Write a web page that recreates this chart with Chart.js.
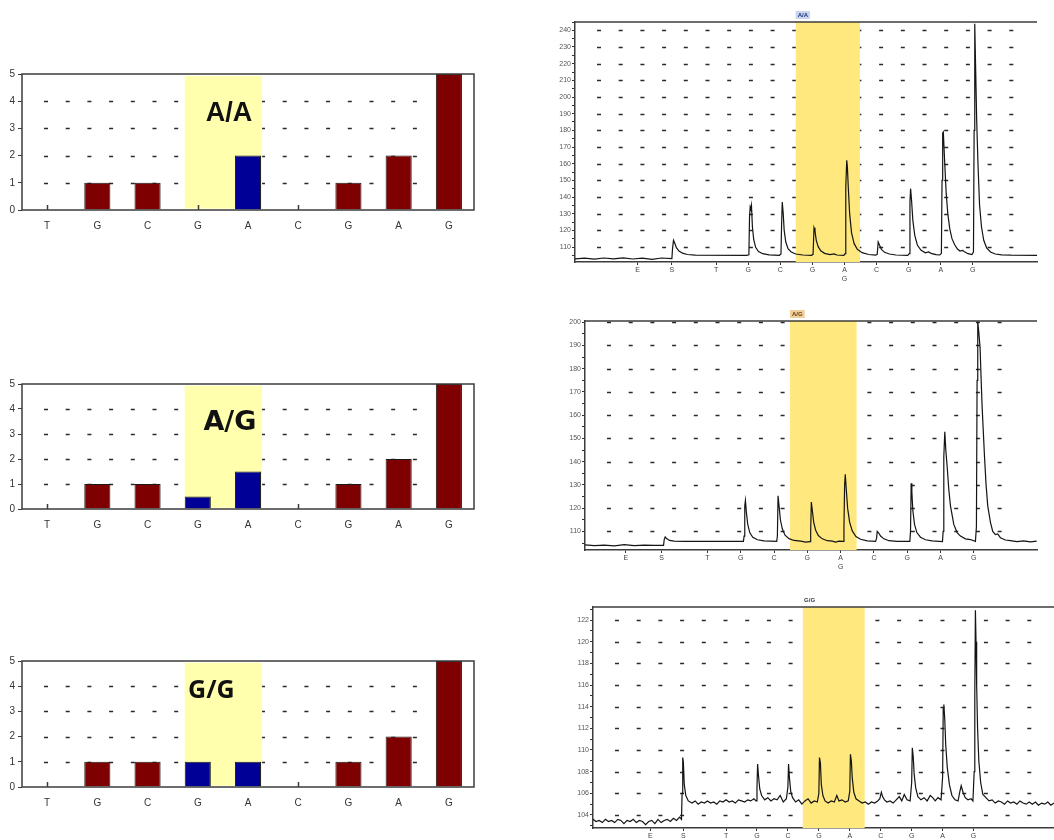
<!DOCTYPE html>
<html>
<head>
<meta charset="utf-8">
<script src="https://cdn.jsdelivr.net/npm/chart.js"></script>
<style>
  body { margin: 0; background: #fff; }
  #page { position: relative; width: 1054px; height: 840px; overflow: hidden; background: #fff; }
  canvas { position: absolute; }
</style>
</head>
<body>
<div id="page">
  <canvas id="histAA" width="480" height="180" style="left:0;top:60px"></canvas>
  <canvas id="histAG" width="480" height="169" style="left:0;top:370px"></canvas>
  <canvas id="histGG" width="480" height="170" style="left:0;top:647px"></canvas>
  <canvas id="pyroAA" width="509" height="290" style="left:545px;top:0"></canvas>
  <canvas id="pyroAG" width="509" height="280" style="left:545px;top:300px"></canvas>
  <canvas id="pyroGG" width="509" height="255" style="left:545px;top:585px"></canvas>
</div>
<script>
// expected peak heights (histograms on the left)
const bases = ['T', 'G', 'C', 'G', 'A', 'C', 'G', 'A', 'G'];
const aaHeights = [0, 1, 1, 0, 2, 0, 1, 2, 5];
const agHeights = [0, 1, 1, 0.5, 1.5, 0, 1, 2, 5];
const ggHeights = [0, 1, 1, 1, 1, 0, 1, 2, 5];
const snpBars = [3, 4];
const histRows = [1, 2, 3, 4];

// dispensation order under the pyrograms
const dispensations = ['E', 'S', 'T', 'G', 'C', 'G', 'A', 'C', 'G', 'A', 'G'];
const dispensationPos = [1.55, 2.62, 4, 5, 6, 7, 8, 9, 10, 11, 12];
const variableIndex = 6;
const variableAlt = 'G';

// measured traces, [dispensation, signal]
const aaTrace = [
  [-0.4, 102.9], [-0.1, 103.3], [0.2, 102.7], [0.5, 103.4], [0.8, 102.9], [1.1, 103.5], [1.4, 102.8],
  [1.7, 103.3], [2.0, 102.6], [2.3, 103.4], [2.62, 103.0],
  [2.64, 109], [2.67, 114], [2.71, 112.2], [2.76, 109.6], [2.84, 107.6], [2.95, 106.3], [3.1, 105.5], [3.35, 105.1], [4.95, 105.0],
  [5.02, 105.3], [5.04, 128], [5.06, 134], [5.08, 132.8], [5.1, 135], [5.13, 122], [5.17, 114.5], [5.23, 109.8],
  [5.32, 107.3], [5.45, 106], [5.65, 105.3], [5.97, 105],
  [6.02, 105.8], [6.04, 124], [6.06, 137], [6.09, 130], [6.12, 120], [6.17, 113], [6.24, 109], [6.34, 107],
  [6.48, 105.8], [6.7, 105.2], [6.97, 105],
  [7.02, 105.6], [7.05, 121.5], [7.08, 119.6], [7.12, 114], [7.18, 110.2], [7.26, 107.7], [7.38, 106.2],
  [7.55, 105.4], [7.68, 105.9], [7.76, 105.2], [7.98, 105],
  [8.02, 106], [8.04, 146], [8.07, 162], [8.09, 158], [8.12, 145], [8.16, 130], [8.22, 118.5], [8.3, 112],
  [8.4, 108.6], [8.55, 106.6], [8.75, 105.5], [8.97, 105.1],
  [9.02, 105.6], [9.05, 113], [9.09, 111.2], [9.15, 108.6], [9.25, 106.8], [9.4, 105.8], [9.6, 105.2], [9.97, 105],
  [10.02, 106], [10.04, 137], [10.06, 145], [10.09, 138], [10.13, 126], [10.19, 117], [10.27, 111.2], [10.38, 108.2],
  [10.52, 106.5], [10.62, 107], [10.7, 106.2], [10.85, 105.4], [10.97, 105.2],
  [11.02, 106.2], [11.04, 150], [11.06, 178.5], [11.08, 179], [11.12, 162], [11.17, 142], [11.22, 130], [11.28, 121],
  [11.35, 115], [11.43, 111.5], [11.52, 108.8], [11.6, 107.6], [11.68, 107.9], [11.74, 107.2], [11.85, 106], [11.97, 105.4],
  [12.02, 107], [12.04, 180], [12.06, 244], [12.09, 215], [12.12, 186], [12.16, 160], [12.21, 135], [12.27, 122],
  [12.34, 114], [12.43, 109.5], [12.55, 107], [12.7, 105.8], [12.9, 105.3], [13.2, 105.1], [14, 105]
];

const agTrace = [
  [0.32, 104.2], [0.6, 103.9], [0.9, 104.1], [1.2, 103.8], [1.5, 104.3], [1.8, 103.9], [2.1, 104.1], [2.4, 104], [2.68, 104],
  [2.7, 106.5], [2.73, 107.6], [2.78, 106.8], [2.86, 106.1], [3.0, 105.8], [3.3, 105.7], [5.08, 105.7],
  [5.1, 108], [5.12, 121], [5.14, 123.3], [5.17, 118], [5.21, 113], [5.27, 109.5], [5.36, 107.5], [5.5, 106.4],
  [5.7, 105.9], [6.08, 105.7],
  [6.1, 108], [6.12, 125.3], [6.15, 121], [6.19, 115], [6.25, 111], [6.33, 108.4], [6.45, 106.9], [6.6, 106.1],
  [6.8, 105.8], [6.95, 105.4], [7.08, 105.6],
  [7.1, 110], [7.12, 122.6], [7.15, 119], [7.19, 114], [7.25, 110.5], [7.33, 108.2], [7.45, 106.8], [7.6, 106],
  [7.75, 105.8], [7.85, 105.4], [7.95, 105.8], [8.08, 105.7],
  [8.1, 112], [8.12, 130], [8.14, 134.6], [8.17, 128], [8.21, 120], [8.27, 114], [8.35, 110.2], [8.46, 107.8],
  [8.6, 106.6], [8.8, 105.9], [9.05, 105.7],
  [9.08, 107], [9.1, 110], [9.14, 109.4], [9.2, 108], [9.3, 106.8], [9.45, 106], [9.7, 105.7], [10.08, 105.7],
  [10.1, 110], [10.12, 130.7], [10.14, 127], [10.17, 119], [10.22, 113], [10.29, 109.5], [10.4, 107.5], [10.55, 106.4],
  [10.75, 105.9], [11.06, 105.6],
  [11.08, 110], [11.1, 142], [11.13, 152.9], [11.16, 145], [11.2, 138], [11.25, 128], [11.3, 121], [11.4, 113],
  [11.5, 109.5], [11.6, 108], [11.75, 106.8], [11.9, 106.5], [12.05, 105.7],
  [12.08, 112], [12.1, 175], [12.12, 200.3], [12.15, 196], [12.19, 189], [12.22, 176], [12.25, 164], [12.32, 143],
  [12.37, 130], [12.42, 121], [12.5, 114], [12.57, 110], [12.65, 108.6], [12.72, 108.9], [12.8, 107.3], [12.95, 106.3],
  [13.1, 106], [13.3, 105.6], [13.5, 105.9], [13.7, 105.5], [13.89, 105.8]
];

const ggTrace = [
  [-0.3, 103.6], [-0.2, 103.4], [-0.1, 103.5], [0, 103.3], [0.1, 103.6], [0.2, 103.4], [0.3, 103.5], [0.4, 103.3],
  [0.5, 103.6], [0.6, 103.5], [0.7, 103.2], [0.8, 103.5], [0.9, 103.4], [1.0, 103.6], [1.1, 103.3], [1.2, 103.5],
  [1.3, 103.4], [1.4, 103.1], [1.5, 103.4], [1.6, 103.5], [1.7, 103.2], [1.8, 103.6], [1.9, 103.3], [2.0, 103.5],
  [2.1, 103.6], [2.2, 103.4], [2.3, 103.7], [2.4, 103.5], [2.5, 103.8], [2.56, 103.6],
  [2.58, 106], [2.6, 109.3], [2.62, 108.9], [2.65, 106.8], [2.7, 105.8], [2.78, 105.3], [2.9, 105.1], [3.0, 105.3],
  [3.1, 105.0], [3.2, 105.2], [3.3, 105.1], [3.4, 105.3], [3.5, 105.1], [3.6, 105.2], [3.7, 105.0], [3.8, 105.3],
  [3.9, 105.2], [4.0, 105.4], [4.1, 105.2], [4.2, 105.3], [4.3, 105.1], [4.4, 105.4], [4.5, 105.3], [4.6, 105.2],
  [4.7, 105.4], [4.8, 105.3], [4.9, 105.5], [4.97, 105.3],
  [5.0, 106.5], [5.02, 108.7], [5.05, 107.6], [5.09, 106.4], [5.15, 105.8], [5.25, 105.4], [5.35, 105.6], [5.45, 105.3],
  [5.55, 105.5], [5.65, 105.4], [5.75, 105.8], [5.85, 105.2], [5.95, 105.5],
  [6.0, 106.6], [6.02, 108.7], [6.05, 107.4], [6.09, 106.2], [6.15, 105.6], [6.25, 105.2], [6.35, 105.4], [6.45, 105.0],
  [6.55, 105.3], [6.65, 105.5], [6.75, 105.1], [6.85, 105.3], [6.95, 105.2],
  [7.0, 106], [7.02, 109.3], [7.05, 108.8], [7.08, 106.8], [7.13, 105.8], [7.2, 105.3], [7.3, 105.1], [7.4, 105.3],
  [7.5, 105.2], [7.58, 105.8], [7.65, 105.3], [7.75, 105.4], [7.85, 105.2], [7.95, 105.3],
  [8.0, 106.2], [8.02, 109.6], [8.05, 109.0], [8.08, 107.4], [8.13, 106.1], [8.2, 105.5], [8.3, 105.3], [8.4, 105.1],
  [8.5, 105.2], [8.6, 105.0], [8.7, 105.2], [8.8, 105.1], [8.9, 105.3], [8.97, 105.5],
  [9.02, 106.1], [9.06, 105.7], [9.12, 105.4], [9.2, 105.2], [9.3, 105.3], [9.4, 105.1], [9.5, 105.4], [9.6, 105.7],
  [9.68, 105.3], [9.76, 105.9], [9.85, 105.4], [9.95, 105.3],
  [10.0, 107], [10.02, 110.2], [10.05, 109.4], [10.08, 107.8], [10.13, 106.5], [10.2, 105.7], [10.3, 105.4], [10.4, 105.6],
  [10.5, 105.3], [10.6, 105.8], [10.68, 105.6], [10.76, 105.3], [10.85, 105.6], [10.95, 105.4],
  [11.0, 107.5], [11.02, 113.8], [11.04, 114.2], [11.07, 112.8], [11.1, 110.5], [11.15, 108.4], [11.22, 106.8], [11.3, 105.8],
  [11.4, 105.4], [11.5, 105.3], [11.56, 106.2], [11.6, 106.7], [11.66, 106.1], [11.73, 105.6], [11.82, 105.4], [11.92, 105.5],
  [11.98, 105.3],
  [12.02, 108], [12.04, 115], [12.06, 122.9], [12.08, 120], [12.1, 116], [12.13, 112], [12.17, 109], [12.23, 107],
  [12.3, 105.9], [12.4, 105.6], [12.5, 105.3], [12.6, 105.4], [12.7, 105.1], [12.8, 105.3], [12.9, 105.2], [13.0, 105.0],
  [13.1, 105.3], [13.2, 105.1], [13.3, 105.2], [13.4, 105.0], [13.5, 105.3], [13.6, 105.1], [13.7, 105.0], [13.8, 105.2],
  [13.9, 105.0], [14.0, 105.2], [14.1, 104.9], [14.2, 105.1], [14.3, 105.0], [14.4, 105.2], [14.5, 104.9], [14.6, 105.1]
];

const FRAME = '#3c3c3c';

function dashedRows(ctx, yScale, rows, x0, x1) {
  ctx.save();
  ctx.strokeStyle = '#2a2a2a';
  ctx.lineWidth = 1.6;
  ctx.setLineDash([4, 17.7]);
  rows.forEach(v => {
    const y = Math.round(yScale.getPixelForValue(v)) + 0.5;
    ctx.beginPath();
    ctx.moveTo(x0, y);
    ctx.lineTo(x1, y);
    ctx.stroke();
  });
  ctx.restore();
}

// histogram of expected peaks for one genotype
function histogram(id, heights, genotype, textX, textY, font) {
  const colors = heights.map((h, i) => snpBars.includes(i) ? '#000096' : '#7e0000');

  new Chart(document.getElementById(id), {
    type: 'bar',
    data: {
      labels: bases,
      datasets: [{
        data: heights,
        backgroundColor: colors,
        borderColor: '#1a1a1a',
        borderWidth: 1,
        barPercentage: 0.52,
        categoryPercentage: 1
      }]
    },
    options: {
      responsive: false,
      animation: false,
      layout: { padding: { top: 14, right: 6, left: 0, bottom: 0 } },
      plugins: { legend: { display: false }, tooltip: { enabled: false } },
      scales: {
        x: {
          grid: { display: true, drawOnChartArea: false, drawTicks: false },
          border: { display: false },
          ticks: { color: '#333', font: { family: 'Liberation Sans', size: 10 }, padding: 10 },
          afterFit: s => { s.height = 30; }
        },
        y: {
          min: 0,
          max: 5,
          ticks: {
            stepSize: 0.5,
            color: '#333',
            font: { family: 'Liberation Sans', size: 10 },
            padding: 3,
            callback: v => Number.isInteger(v) ? v : ''
          },
          grid: { drawOnChartArea: false, tickLength: 4, color: FRAME },
          border: { display: false },
          afterFit: s => { s.width = 22; }
        }
      }
    },
    plugins: [{
      id: 'snpBand',
      beforeDatasetsDraw(chart) {
        const { ctx, chartArea: a, scales: { x, y } } = chart;
        dashedRows(ctx, y, histRows, a.left + 22, a.right - 48);
        // variable position band
        const x0 = x.getPixelForValue(2.74), x1 = x.getPixelForValue(4.28);
        const y0 = y.getPixelForValue(4.93), y1 = y.getPixelForValue(0.05);
        ctx.save();
        ctx.fillStyle = '#ffffae';
        ctx.fillRect(x0, y0, x1 - x0, y1 - y0);
        ctx.restore();
      },
      afterDatasetsDraw(chart) {
        const { ctx, chartArea: a, scales: { x, y } } = chart;
        ctx.save();
        // zero-height bars show as a small stub
        ctx.strokeStyle = FRAME;
        ctx.lineWidth = 1.5;
        heights.forEach((h, i) => {
          if (h !== 0) return;
          const px = Math.round(x.getPixelForValue(i)) + 0.5;
          ctx.beginPath();
          ctx.moveTo(px, a.bottom);
          ctx.lineTo(px, a.bottom - 5);
          ctx.stroke();
        });
        ctx.strokeRect(a.left, a.top, a.right - a.left, a.bottom - a.top);
        ctx.fillStyle = '#111';
        ctx.font = font;
        ctx.textAlign = 'center';
        ctx.textBaseline = 'middle';
        ctx.fillText(genotype, x.getPixelForValue(textX), y.getPixelForValue(textY));
        ctx.restore();
      }
    }]
  });
}

histogram('histAA', aaHeights, 'A/A', 3.62, 3.53, 'bold 27px "Liberation Sans"');
histogram('histAG', agHeights, 'A/G', 3.64, 3.44, 'bold 27px "DejaVu Sans"');
histogram('histGG', ggHeights, 'G/G', 3.27, 3.81, 'bold 25px "Open Sans"');

// pyrogram trace with dispensation axis
function pyrogram(id, trace, o) {
  new Chart(document.getElementById(id), {
    type: 'scatter',
    data: {
      datasets: [{
        data: trace.map(p => ({ x: p[0], y: p[1] })),
        showLine: true,
        borderColor: '#141414',
        borderWidth: 1.2,
        pointRadius: 0,
        tension: 0
      }]
    },
    options: {
      responsive: false,
      animation: false,
      layout: { padding: { top: o.padTop, right: o.padRight, left: 0, bottom: 0 } },
      plugins: { legend: { display: false }, tooltip: { enabled: false } },
      scales: {
        x: {
          type: 'linear',
          min: o.xMin,
          max: o.xMax,
          afterBuildTicks: s => { s.ticks = dispensationPos.map(v => ({ value: v })); },
          ticks: {
            autoSkip: false,
            maxRotation: 0,
            color: '#444',
            font: { family: 'Liberation Sans', size: 7 },
            padding: 1,
            callback: (v, i) => i === variableIndex ? [dispensations[i], variableAlt] : dispensations[i]
          },
          grid: { drawOnChartArea: false, tickLength: 3, color: '#333' },
          border: { color: FRAME, width: 1.5 },
          afterFit: s => { s.height = o.xAxisH; }
        },
        y: {
          min: o.yMin,
          max: o.yMax,
          // major ticks carry a label, minor ones sit halfway between
          afterBuildTicks: s => {
            const t = [];
            for (let v = Math.ceil(o.yMin / o.minor) * o.minor; v <= o.yMax + 1e-9; v += o.minor) {
              t.push({ value: +v.toFixed(3) });
            }
            s.ticks = t;
          },
          ticks: {
            autoSkip: false,
            color: '#555',
            font: { family: 'Liberation Sans', size: 7 },
            padding: 1,
            callback: v => (Math.abs(v % o.major) < 1e-6 ? v : '')
          },
          grid: { drawOnChartArea: false, tickLength: 3, color: '#333' },
          border: { color: FRAME, width: 1.5 },
          afterFit: s => { s.width = o.yAxisW; }
        }
      }
    },
    plugins: [{
      id: 'pyroBand',
      beforeDatasetsDraw(chart) {
        const { ctx, chartArea: a, scales: { x, y } } = chart;
        dashedRows(ctx, y, o.rows, a.left + 22, a.right - 18);
        const x0 = x.getPixelForValue(6.48), x1 = x.getPixelForValue(8.48);
        ctx.save();
        ctx.fillStyle = '#ffe87e';
        ctx.fillRect(x0, a.top, x1 - x0, a.bottom - a.top);
        // frame line across the top
        ctx.strokeStyle = FRAME;
        ctx.lineWidth = 1.5;
        ctx.beginPath();
        ctx.moveTo(a.left, a.top);
        ctx.lineTo(a.right, a.top);
        ctx.stroke();
        // genotype tag above the plot
        const tx = x.getPixelForValue(6.7), ty = a.top - 7;
        ctx.font = 'bold 6px "Liberation Sans"';
        ctx.textAlign = 'center';
        ctx.textBaseline = 'middle';
        if (o.tagFill) {
          const w = ctx.measureText(o.title).width + 4;
          ctx.fillStyle = o.tagFill;
          ctx.fillRect(tx - w / 2, ty - 4, w, 8);
        }
        ctx.fillStyle = o.tagText;
        ctx.fillText(o.title, tx, ty);
        ctx.restore();
      }
    }]
  });
}

pyrogram('pyroAA', aaTrace, {
  title: 'A/A', tagFill: '#c9d5ef', tagText: '#1d2f7a',
  xMin: -0.4, xMax: 14, yMin: 101, yMax: 245, minor: 5, major: 10,
  rows: [110, 120, 130, 140, 150, 160, 170, 180, 190, 200, 210, 220, 230, 240],
  padTop: 22, padRight: 17, yAxisW: 30, xAxisH: 28
});

pyrogram('pyroAG', agTrace, {
  title: 'A/G', tagFill: '#f1cf9a', tagText: '#6a3a10',
  xMin: 0.32, xMax: 13.9, yMin: 102, yMax: 200.5, minor: 5, major: 10,
  rows: [110, 120, 130, 140, 150, 160, 170, 180, 190, 200],
  padTop: 21, padRight: 17, yAxisW: 40, xAxisH: 30
});

pyrogram('pyroGG', ggTrace, {
  title: 'G/G', tagFill: null, tagText: '#333',
  xMin: -0.3, xMax: 14.6, yMin: 102.8, yMax: 123.2, minor: 1, major: 2,
  rows: [104, 106, 108, 110, 112, 114, 116, 118, 120, 122],
  padTop: 22, padRight: 0, yAxisW: 48, xAxisH: 12
});
</script>
</body>
</html>
